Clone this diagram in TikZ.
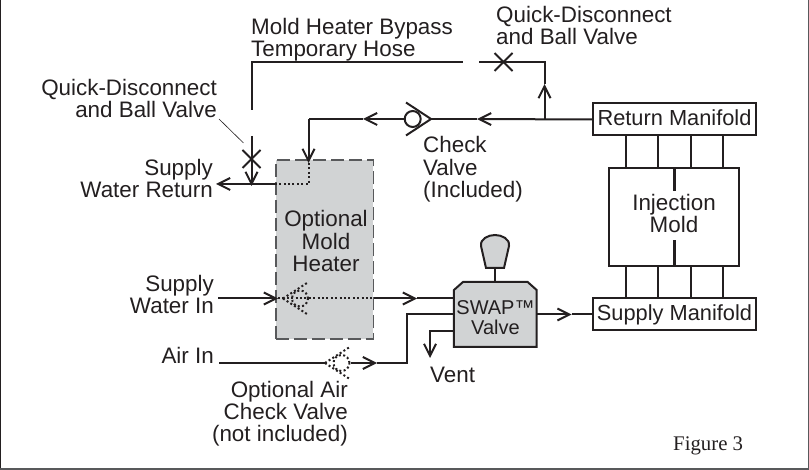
\documentclass[tikz,border=0pt]{standalone}
\usepackage{fontspec}
\setmainfont{Liberation Sans}
\newfontfamily\figfont{Liberation Serif}
\usetikzlibrary{positioning}
\usetikzlibrary{arrows.meta}
\definecolor{ink}{HTML}{231F20}
\definecolor{shade}{HTML}{D1D3D4}
\definecolor{dashgray}{HTML}{58595B}
\usetikzlibrary{shapes.misc}
\tikzset{
  pipe/.style={draw=ink, line width=2pt},
  flow/.style={pipe, -{Straight Barb[length=12pt,width=12pt,line width=2pt]}},
  hidden/.style={draw=ink, line width=2pt, dash pattern=on 2pt off 2.4pt},
  label/.style={text=ink, font=\fontsize{22.4}{22.5}\selectfont, inner sep=0pt},
  box/.style={pipe, fill=white, label, font=\fontsize{21.8}{22.5}\selectfont, minimum width=163pt, minimum height=32pt,
    text height=13pt, text depth=0pt},
  ballvalve/.style={cross out, pipe, minimum size=16pt, inner sep=0pt},
  ball/.style={circle, minimum size=16pt, inner sep=0pt}
}
\begin{document}
\begin{tikzpicture}[x=1pt, y=-1pt]
  \useasboundingbox (0,0) rectangle (809,470);
  \draw[draw=ink, line width=2pt] (0,0) -- (0,469) -- (808,469);
  \draw[draw=dashgray, line width=1.5pt] (0,469) -- (808.3,469) -- (808.3,0);

  % main blocks
  \node[box] (retman) at (674.5,119.5) {Return Manifold};
  \node[box] (supman) at (674.5,314.5) {Supply Manifold};
  \node[pipe, minimum width=130pt, minimum height=97.5pt] (mold) at (674,217) {};
  \node[fill=shade, draw=dashgray, line width=1.5pt, dash pattern=on 13pt off 5pt,
        minimum width=97.5pt, minimum height=179pt] (heater) at (324.7,249.5) {};
  \node[minimum width=82.7pt, minimum height=65pt, inner sep=0pt, outer sep=0pt] (swap) at (495.3,314.5) {};
  \draw[pipe, fill=shade] (swap.south west) -- (swap.south east) -- ([yshift=-8pt]swap.north east)
    -- ([xshift=-9pt]swap.north east) -- ([xshift=9pt]swap.north west) -- ([yshift=-8pt]swap.north west) -- cycle;
  \coordinate (knob) at (495.3,268);
  \draw[pipe] (swap.north) -- (knob);
  \draw[pipe, fill=shade] (486,268) -- (504,268) -- (509,246)
    .. controls (510,239) and (502,235) .. (495,235)
    .. controls (488,235) and (480,239) .. (481,246) -- cycle;

  % manifold ties
  \foreach \tie in {625.7,658,690.7,723} {
    \draw[pipe] (\tie,135.5) -- (\tie,168.2);
    \draw[pipe] (\tie,265.5) -- (\tie,298.5);
  }
  \coordinate (stuba) at (674,191);
  \coordinate (stubb) at (674,240);
  \draw[draw=ink, line width=3pt] (mold.north -| stuba) -- (stuba);
  \draw[draw=ink, line width=3pt] (mold.south -| stubb) -- (stubb);

  % valves
  \node[ballvalve] (qdtop) at (503.5,62) {};
  \node[ballvalve] (qdside) at (251.5,159) {};
  \node[ball, pipe] (chk) at (412.7,119) {};
  \coordinate (chktip) at (431,119);
  \draw[pipe] (chktip) -- ++(-25pt,16.5pt);
  \draw[pipe] (chktip) -- ++(-25pt,-16.5pt);
  \node[ball, hidden] (wchk) at (300,298.5) {};
  \coordinate (wchktip) at (283,298.5);
  \node[ball, hidden] (achk) at (341.5,363) {};
  \coordinate (achktip) at (325,363);

  % return side
  \coordinate (tee) at (544.5,119);
  \coordinate (teetip) at (544.5,84);
  \coordinate (rettip) at (477,119);
  \coordinate (outtip) at (363,119);
  \coordinate (corner) at (308.5,119);
  \coordinate (intip) at (308.5,163);
  \coordinate (port) at (308.5,184);
  \coordinate (rethose) at (216,184);
  \coordinate (hosebot) at (251.5,110);
  \coordinate (hosegap) at (463,62);
  \coordinate (hosegapb) at (479,62);
  \coordinate (qdstub) at (251.5,136);
  \draw[flow] (retman.west) -- (rettip);
  \draw[pipe] (rettip) -- (chktip);
  \draw[flow] (chk.west) -- (outtip);
  \draw[pipe] (outtip) -- (corner);
  \draw[flow] (corner) -- (intip);
  \draw[hidden] (intip) |- (heater.west |- port);
  \draw[flow] (heater.west |- port) -- (rethose);
  \draw[flow] (tee) -- (teetip);
  \draw[pipe] (teetip) |- (hosegapb);
  \draw[pipe] (hosebot) |- (hosegap);
  \draw[flow] (qdstub) -- (qdstub |- 0,186);
  \coordinate (leaderb) at (243.5,143);
  \coordinate (leadera) at (219,119);
  \draw[draw=ink, line width=.6pt] (leadera) -- (leaderb);

  % supply side
  \coordinate (wstart) at (218,298.5);
  \coordinate (wtip) at (278,298.5);
  \coordinate (swtip) at (417,298.5);
  \draw[flow] (wstart) -- (wtip);
  \draw[hidden] (wtip) -- (heater.east |- wtip);
  \draw[flow] (heater.east |- wtip) -- (swtip);
  \draw[pipe] (swtip) -- (swap.west |- swtip);
  \draw[hidden] (wchktip) -- ++(25.5pt,-16.5pt);
  \draw[hidden] (wchktip) -- ++(25.5pt,16.5pt);
  \coordinate (astart) at (219,363);
  \coordinate (atip) at (377,363);
  \coordinate (arise) at (406.5,314.5);
  \coordinate (venta) at (430,330.7);
  \coordinate (venttip) at (430,358);
  \draw[pipe] (astart) -- (achktip);
  \draw[hidden] (achktip) -- ++(25.5pt,-16.5pt);
  \draw[hidden] (achktip) -- ++(25.5pt,16.5pt);
  \draw[flow] (achk.east) -- (atip);
  \draw[pipe] (atip) -| (arise) -- (swap.west |- arise);
  \coordinate (swouttip) at (571.7,314.5);
  \draw[flow] (swap.east |- swouttip) -- (swouttip);
  \draw[pipe] (swouttip) -- (supman.west);
  \draw[flow] (swap.west |- venta) -| (venttip);

  % labels
  \node[label, anchor=base, align=center] (moldlbl) at (674,233) {Injection\\Mold};
  \node[label, anchor=base, align=center] (heaterlbl) at (326,272) {Optional\\Mold\\Heater};
  \node[label, anchor=base, align=center, font=\fontsize{20}{20}\selectfont] (swaplbl) at (495.5,335) {SWAP™\\Valve};
  \node[label, anchor=base west, align=left] (hoselbl) at (251,57) {Mold Heater Bypass\\Temporary Hose};
  \node[label, anchor=base west, align=left] (qdtoplbl) at (496,45) {Quick-Disconnect\\and Ball Valve};
  \node[label, anchor=base east, align=right] (qdsidelbl) at (217,118) {Quick-Disconnect\\and Ball Valve};
  \node[label, anchor=base east, align=right] (retlbl) at (213,198) {Supply\\Water Return};
  \node[label, anchor=base west, align=left] (chklbl) at (423,198) {Check\\Valve\\(Included)};
  \node[label, anchor=base east, align=right] (inlbl) at (214,314) {Supply\\Water In};
  \node[label, anchor=base east] (airlbl) at (214,364) {Air In};
  \node[label, anchor=base east, align=right] (achklbl) at (348,442) {Optional Air\\Check Valve\\(not included)};
  \node[label, anchor=base west] (ventlbl) at (430,382) {Vent};
  \node[text=ink, inner sep=0pt, anchor=base west, font=\figfont\fontsize{20.8}{22}\selectfont] (figlbl) at (673,450) {Figure 3};
\end{tikzpicture}
\end{document}
